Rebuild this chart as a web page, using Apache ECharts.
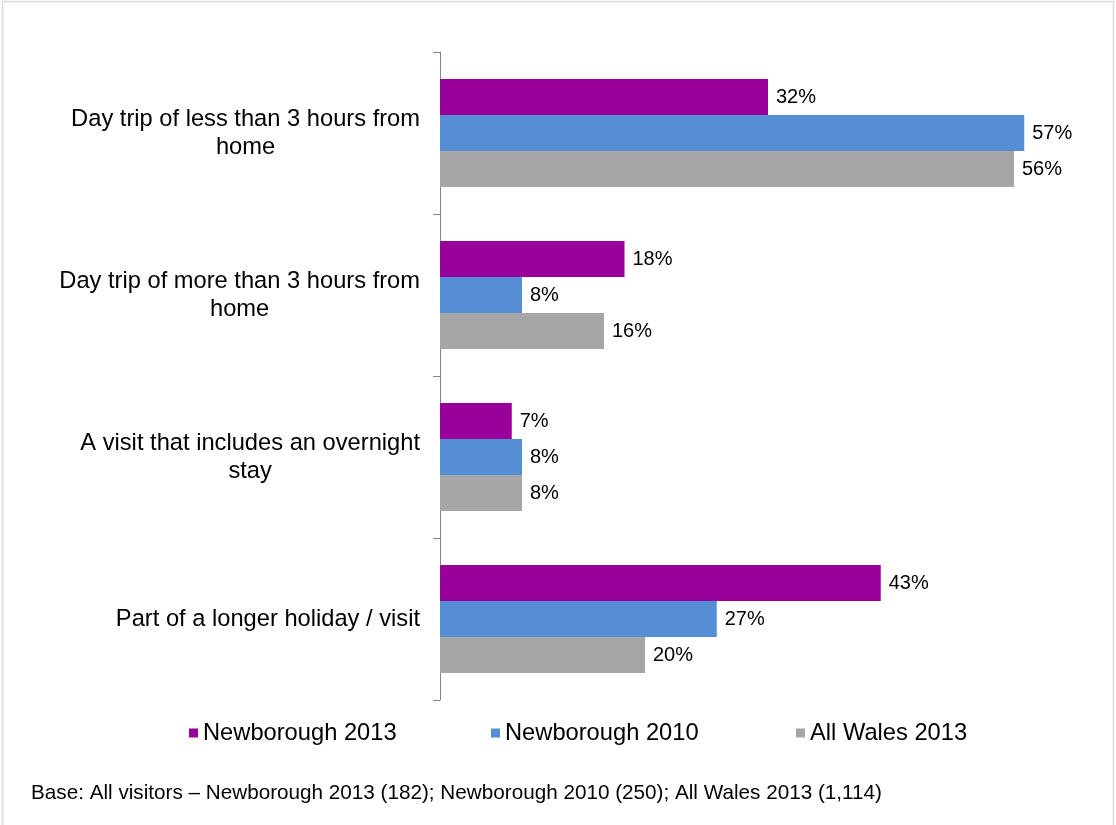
<!DOCTYPE html>
<html>
<head>
<meta charset="utf-8">
<script src="https://cdn.jsdelivr.net/npm/echarts@6/dist/echarts.min.js"></script>
<style>
  html, body { margin: 0; padding: 0; background: #ffffff; }
  #chart { width: 1116px; height: 825px; }
</style>
</head>
<body>
<div id="chart"></div>
<script>
// Visit type categories (top to bottom)
const categories = [
  'Day trip of less than 3 hours from\nhome',
  'Day trip of more than 3 hours from\nhome',
  'A visit that includes an overnight\nstay',
  'Part of a longer holiday / visit'
];

// Percentages of visitors per group
const newborough2013 = [32, 18, 7, 43];
const newborough2010 = [57, 8, 8, 27];
const allWales2013 = [56, 16, 8, 20];

const seriesNames = ['Newborough 2013', 'Newborough 2010', 'All Wales 2013'];
const seriesColors = ['#990099', '#558ED5', '#A6A6A6'];
const baseNote = 'Base: All visitors \u2013 Newborough 2013 (182); Newborough 2010 (250); All Wales 2013 (1,114)';

const FONT = '"Liberation Sans", Arial, sans-serif';

const chart = echarts.init(document.getElementById('chart'), null, { renderer: 'canvas' });

function barSeries(name, data, color) {
  return {
    name: name,
    type: 'bar',
    data: data,
    barGap: '0%',
    barCategoryGap: '33.33%',
    itemStyle: { color: color },
    label: {
      show: true,
      position: 'right',
      distance: 8,
      formatter: '{c}%',
      color: '#000000',
      fontSize: 20,
      fontFamily: FONT
    },
    emphasis: { disabled: true }
  };
}

function legendAt(name, left) {
  return {
    data: [name],
    left: left,
    top: 716,
    itemWidth: 9,
    itemHeight: 9,
    icon: 'rect',
    textStyle: { fontSize: 23.7, color: '#000000', fontFamily: FONT },
    selectedMode: false
  };
}

chart.setOption({
  animation: false,
  backgroundColor: '#ffffff',
  textStyle: { fontFamily: FONT },
  title: {
    text: baseNote,
    left: 26,
    top: 778,
    textStyle: { fontSize: 20.7, fontWeight: 'normal', color: '#000000', fontFamily: FONT }
  },
  legend: [
    legendAt(seriesNames[0], 184),
    legendAt(seriesNames[1], 486),
    legendAt(seriesNames[2], 791)
  ],
  grid: { left: 440, right: 61, top: 52, bottom: 125, containLabel: false },
  xAxis: {
    type: 'value',
    min: 0,
    max: 60,
    show: false,
    splitLine: { show: false }
  },
  yAxis: {
    type: 'category',
    inverse: true,
    data: categories,
    axisLine: { show: true, lineStyle: { color: '#868686', width: 1 } },
    axisTick: { show: true, length: 7, lineStyle: { color: '#868686' } },
    axisLabel: {
      margin: 20,
      align: 'right',
      formatter: function (v) {
        return v.split('\n').map(function (l) { return '{c|' + l + '}'; }).join('\n');
      },
      rich: {
        c: { align: 'center', fontSize: 23.7, lineHeight: 28, color: '#000000', fontFamily: FONT }
      }
    }
  },
  series: [
    barSeries(seriesNames[0], newborough2013, seriesColors[0]),
    barSeries(seriesNames[1], newborough2010, seriesColors[1]),
    barSeries(seriesNames[2], allWales2013, seriesColors[2])
  ],
  graphic: [{
    type: 'rect',
    silent: true,
    shape: { x: 2.5, y: 1.5, width: 1111, height: 900 },
    style: { fill: 'none', stroke: '#d9d9d9', lineWidth: 1.5 }
  }]
});
</script>
</body>
</html>
